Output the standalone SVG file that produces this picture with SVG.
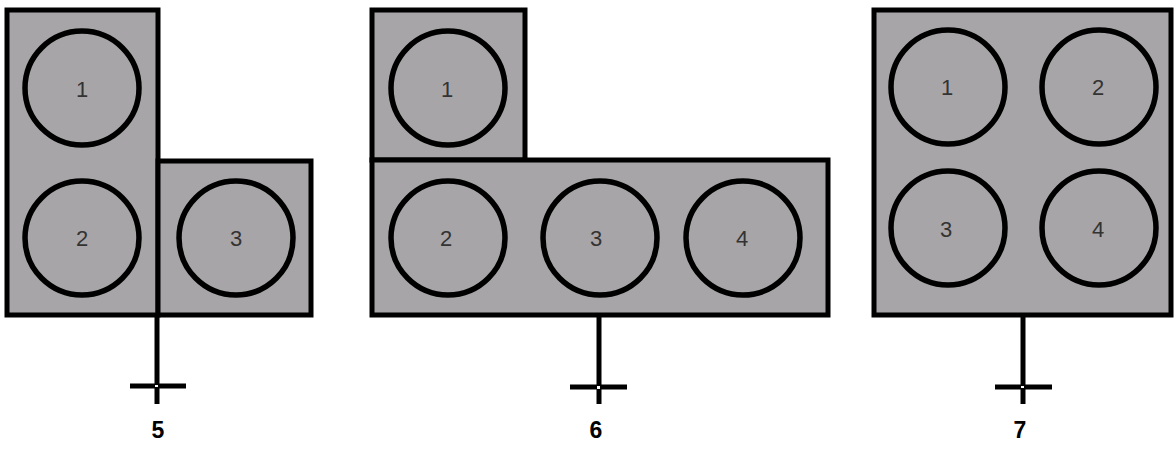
<svg xmlns="http://www.w3.org/2000/svg" width="1176" height="450" viewBox="0 0 1176 450">
<style>
.box{fill:#a7a5a7;stroke:#000;stroke-width:5;stroke-linejoin:miter}
.c{fill:none;stroke:#000;stroke-width:5.5}
.n{font-family:"Liberation Sans",Arial,sans-serif;font-size:22px;fill:#333;text-anchor:middle}
.lbl{font-family:"Liberation Sans",Arial,sans-serif;font-size:23px;font-weight:bold;fill:#000;text-anchor:middle}
.stem{stroke:#000;stroke-width:5;fill:none}
.bar{stroke:#000;stroke-width:5;fill:none}
.dot{fill:#fff}
</style>
<rect width="1176" height="450" fill="#fff"/>
<g id="unit5">
<rect class="box" x="7" y="10" width="151" height="305"/>
<rect class="box" x="158" y="161" width="153" height="154"/>
<circle class="c" cx="82" cy="88" r="57"/>
<circle class="c" cx="82" cy="238" r="57"/>
<circle class="c" cx="236" cy="238" r="57"/>
<text class="n" x="82" y="97">1</text>
<text class="n" x="82" y="246">2</text>
<text class="n" x="236" y="246">3</text>
</g>
<g id="unit6">
<rect class="box" x="372" y="10" width="153" height="150"/>
<rect class="box" x="372" y="160" width="456" height="155"/>
<circle class="c" cx="448" cy="88" r="57"/>
<circle class="c" cx="448" cy="238" r="57"/>
<circle class="c" cx="600" cy="238" r="57"/>
<circle class="c" cx="743" cy="238" r="57"/>
<text class="n" x="447" y="97">1</text>
<text class="n" x="446" y="246">2</text>
<text class="n" x="596" y="246">3</text>
<text class="n" x="742" y="246">4</text>
</g>
<g id="unit7">
<rect class="box" x="874" y="10" width="297" height="305"/>
<circle class="c" cx="948" cy="87" r="57"/>
<circle class="c" cx="1099" cy="87" r="57"/>
<circle class="c" cx="948" cy="228" r="57"/>
<circle class="c" cx="1099" cy="228" r="57"/>
<text class="n" x="947" y="95">1</text>
<text class="n" x="1098" y="95">2</text>
<text class="n" x="946" y="237">3</text>
<text class="n" x="1098" y="237">4</text>
</g>
<g id="connectors">
<line class="stem" x1="157" y1="315" x2="157" y2="404"/>
<line class="bar" x1="130" y1="386" x2="186" y2="386"/>
<rect class="dot" x="155" y="385" width="3" height="2"/>
<line class="stem" x1="599" y1="315" x2="599" y2="404"/>
<line class="bar" x1="570" y1="387" x2="627" y2="387"/>
<rect class="dot" x="597" y="386" width="3" height="3"/>
<line class="stem" x1="1023" y1="315" x2="1023" y2="404"/>
<line class="bar" x1="995" y1="387" x2="1052" y2="387"/>
<rect class="dot" x="1021" y="386" width="3" height="2"/>
</g>
<g id="labels">
<text class="lbl" x="158" y="438">5</text>
<text class="lbl" x="596" y="438">6</text>
<text class="lbl" x="1020" y="438">7</text>
</g>
</svg>
